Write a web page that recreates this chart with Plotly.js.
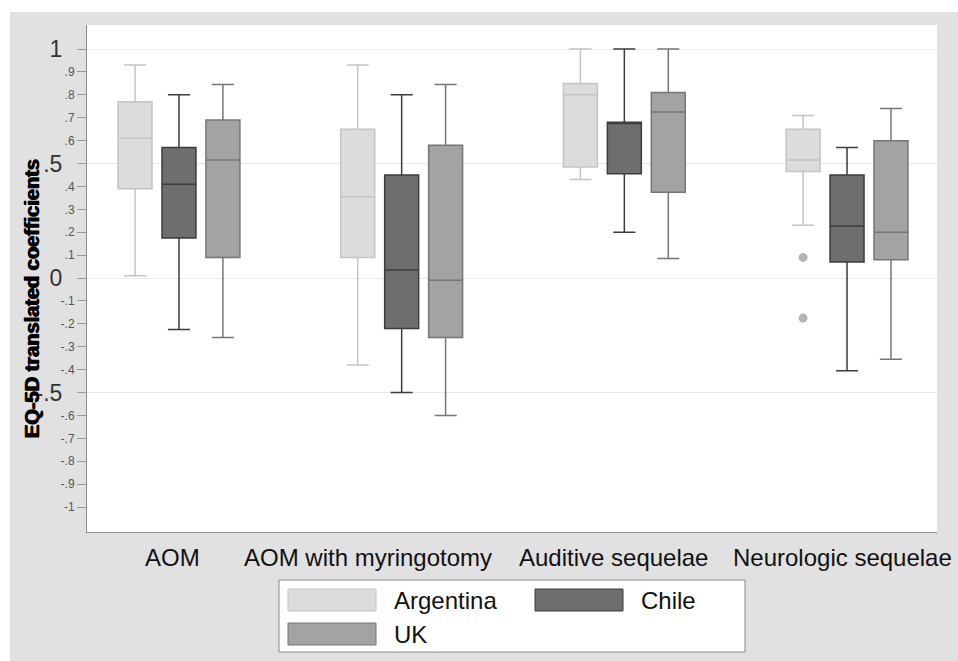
<!DOCTYPE html>
<html>
<head>
<meta charset="utf-8">
<script src="https://cdn.plot.ly/plotly-3.0.1.min.js"></script>
<style>
html,body{margin:0;padding:0;background:#ffffff;}
#chart{position:absolute;left:10px;top:12px;width:948px;height:649px;}
</style>
</head>
<body>
<div id="chart"></div>
<script>
// ---------- data ----------
const categories = ["AOM", "AOM with myringotomy", "Auditive sequelae", "Neurologic sequelae"];
const countries = ["Argentina", "Chile", "UK"];

const argUpper  = [0.93, 0.93, 1.00, 0.71];
const argQ3     = [0.77, 0.65, 0.85, 0.65];
const argMedian = [0.61, 0.355, 0.80, 0.515];
const argQ1     = [0.39, 0.09, 0.485, 0.465];
const argLower  = [0.01, -0.38, 0.43, 0.23];
// Argentina outliers (Neurologic sequelae)
const argOutlierCat = ["Neurologic sequelae", "Neurologic sequelae"];
const argOutlierVal = [0.09, -0.175];

const chileUpper  = [0.80, 0.80, 1.00, 0.57];
const chileQ3     = [0.57, 0.45, 0.68, 0.45];
const chileMedian = [0.41, 0.035, 0.675, 0.227];
const chileQ1     = [0.175, -0.22, 0.455, 0.07];
const chileLower  = [-0.225, -0.50, 0.20, -0.405];

const ukUpper  = [0.845, 0.845, 1.00, 0.74];
const ukQ3     = [0.69, 0.58, 0.81, 0.60];
const ukMedian = [0.515, -0.01, 0.725, 0.20];
const ukQ1     = [0.09, -0.26, 0.375, 0.08];
const ukLower  = [-0.26, -0.60, 0.085, -0.355];

const majorTicks  = [1, 0.5, 0, -0.5];
const majorLabels = ["1", ".5", "0", "-.5"];
const minorTicks  = [0.9, 0.8, 0.7, 0.6, 0.4, 0.3, 0.2, 0.1, -0.1, -0.2, -0.3, -0.4, -0.6, -0.7, -0.8, -0.9, -1];
const minorLabels = [".9", ".8", ".7", ".6", ".4", ".3", ".2", ".1", "-.1", "-.2", "-.3", "-.4", "-.6", "-.7", "-.8", "-.9", "-1"];

const yTitle = "EQ-5D translated coefficients";

// ---------- styles ----------
const fills = ["#dcdcdc", "#6e6e6e", "#a3a3a3"];
const lines = ["#c4c4c4", "#3c3c3c", "#767676"];
const groups = ["g0", "g1", "g2"];
const labelShift = [-6, -34, -11, -5];

// plot area in page pixels (div is offset by 10,12)
const PL = 87, PR = 937, PT = 25, PB = 532;
const px = X => (X - PL) / (PR - PL);
const py = Y => (PB - Y) / (PB - PT);

function boxTrace(i, up, q3, med, q1, lo) {
  return {
    type: "box", name: countries[i], x: categories,
    q1: q1, median: med, q3: q3, lowerfence: lo, upperfence: up,
    orientation: "v", offsetgroup: groups[i],
    fillcolor: fills[i],
    line: {color: lines[i], width: 1.5},
    whiskerwidth: 0.65,
    hoverinfo: "skip", showlegend: false,
    boxpoints: false
  };
}

const traces = [
  boxTrace(0, argUpper, argQ3, argMedian, argQ1, argLower),
  boxTrace(1, chileUpper, chileQ3, chileMedian, chileQ1, chileLower),
  boxTrace(2, ukUpper, ukQ3, ukMedian, ukQ1, ukLower),
  {
    // outlier points for Argentina, drawn in Argentina's slot; the box itself is invisible
    type: "box", name: "Argentina outliers", x: argOutlierCat, y: argOutlierVal,
    orientation: "v", offsetgroup: groups[0],
    boxpoints: "all", pointpos: 0, jitter: 0,
    fillcolor: "rgba(0,0,0,0)", line: {color: "rgba(0,0,0,0)", width: 0},
    marker: {color: "#b4b4b4", size: 9, line: {width: 0}},
    hoverinfo: "skip", showlegend: false
  },
  {type: "scatter", x: [], y: [], yaxis: "y2", showlegend: false, hoverinfo: "skip"}
];

const yRange = [-1.109, 1.105];

// legend (drawn manually, Stata-style large swatches)
const legendItems = [{sx: 288, sy: 589}, {sx: 535, sy: 589}, {sx: 288, sy: 623}];
const shapes = [{
  type: "rect", xref: "paper", yref: "paper",
  x0: px(279), x1: px(745), y0: py(652), y1: py(580),
  fillcolor: "#ffffff", line: {color: "#8a8a8a", width: 1}, layer: "above"
}];
const annotations = [];
countries.forEach((c, i) => {
  const p = legendItems[i];
  shapes.push({
    type: "rect", xref: "paper", yref: "paper",
    x0: px(p.sx), x1: px(p.sx + 88), y0: py(p.sy + 22), y1: py(p.sy),
    fillcolor: fills[i], line: {color: lines[i], width: 1}, layer: "above"
  });
  annotations.push({
    xref: "paper", yref: "paper", x: px(p.sx + 104), y: py(p.sy + 11),
    xanchor: "left", yanchor: "middle", showarrow: false, text: c,
    font: {size: 24, color: "#111"}
  });
});
categories.forEach((c, i) => {
  annotations.push({
    xref: "x", yref: "paper", x: c, y: py(557), xshift: labelShift[i],
    xanchor: "center", yanchor: "middle", showarrow: false, text: c,
    font: {size: 24, color: "#111"}
  });
});
annotations.push({
  xref: "paper", yref: "paper", x: px(32), y: py(299),
  xanchor: "center", yanchor: "middle", showarrow: false, textangle: -90,
  text: yTitle,
  font: {size: 20, color: "#000", weight: "bold", shadow: "0.7px 0 0 #000, -0.7px 0 0 #000"}
});

const layout = {
  width: 948, height: 649,
  paper_bgcolor: "#e1e1e1", plot_bgcolor: "#ffffff",
  margin: {l: 77, r: 21, t: 13, b: 129, pad: 0},
  font: {family: "'Liberation Sans', Arial, sans-serif", color: "#111"},
  boxmode: "group", boxgap: 0.408, boxgroupgap: 0.227,
  showlegend: false,
  xaxis: {
    type: "category", range: [-0.413, 3.404],
    showticklabels: false, ticks: "", showgrid: false, zeroline: false,
    showline: true, linecolor: "#8c8c8c", linewidth: 1
  },
  yaxis: {
    range: yRange, tickmode: "array", tickvals: minorTicks, ticktext: minorLabels,
    ticks: "outside", ticklen: 9, tickcolor: "#9a9a9a", tickwidth: 1,
    tickfont: {size: 12, color: "#555"},
    showgrid: false, zeroline: false,
    showline: true, linecolor: "#8c8c8c", linewidth: 1
  },
  yaxis2: {
    overlaying: "y", side: "left", anchor: "x",
    range: yRange, tickmode: "array", tickvals: majorTicks, ticktext: majorLabels,
    ticks: "outside", ticklen: 9, tickcolor: "#9a9a9a", tickwidth: 1,
    tickfont: {size: 23, color: "#333"}, ticklabelstandoff: 10,
    showgrid: true, gridcolor: "#e8e8e8", gridwidth: 1,
    zeroline: false, showline: false
  },
  shapes: shapes,
  annotations: annotations
};

Plotly.newPlot("chart", traces, layout, {staticPlot: true, displayModeBar: false});
</script>
</body>
</html>
